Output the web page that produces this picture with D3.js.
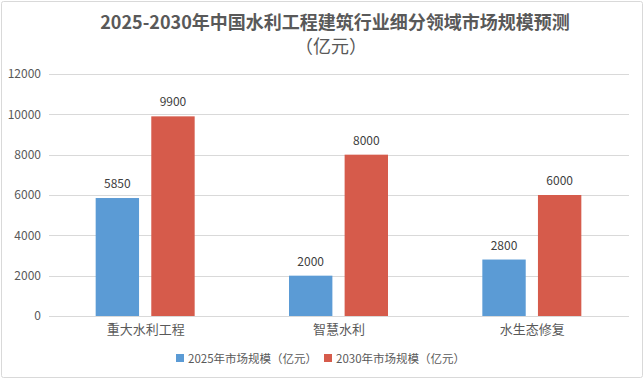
<!DOCTYPE html>
<html><head><meta charset="utf-8">
<script src="https://cdn.jsdelivr.net/npm/d3@7"></script>
<style>
html,body{margin:0;padding:0;background:#fff;}
svg{display:block;font-family:"Noto Sans CJK SC","Microsoft YaHei",sans-serif;}
</style></head>
<body><svg id="c" width="644" height="379"></svg>
<script>
const categories = ["重大水利工程", "智慧水利", "水生态修复"];
const seriesNames = ["2025年市场规模（亿元）", "2030年市场规模（亿元）"];
const values2025 = [5850, 2000, 2800];
const values2030 = [9900, 8000, 6000];
const yTicks = [0, 2000, 4000, 6000, 8000, 10000, 12000];
const colors = ["#5B9BD5", "#D65B4B"];

const svg = d3.select("#c");
const W = 644, H = 379;
const m = {left: 49, right: 15, top: 74, bottom: 63};

svg.append("rect").attr("x", 1.5).attr("y", 1.5).attr("width", W - 3).attr("height", H - 3)
  .attr("fill", "#fff").attr("stroke", "#d9d9d9").attr("rx", 2);

const x = d3.scaleBand().domain(categories).range([m.left, W - m.right]).paddingInner(0).paddingOuter(0);
const xs = d3.scaleBand().domain([0, 1]).range([0, 99]).paddingInner(0.22);
const y = d3.scaleLinear().domain([0, 12000]).range([H - m.bottom, m.top]);

// grid
svg.append("g").selectAll("line").data(yTicks).join("line")
  .attr("x1", m.left).attr("x2", W - m.right)
  .attr("y1", d => Math.round(y(d)) + 0.5).attr("y2", d => Math.round(y(d)) + 0.5)
  .attr("stroke", "#d9d9d9").attr("stroke-width", 1);

// y axis labels
const yAxis = d3.axisLeft(y).tickValues(yTicks).tickSize(0).tickPadding(0).tickFormat(d3.format("d"));
const gy = svg.append("g").attr("transform", `translate(${m.left - 8},0)`).call(yAxis);
gy.select(".domain").remove();
gy.selectAll("text").attr("fill", "#595959").attr("font-size", 12)
  .attr("font-family", "'Noto Sans CJK SC',sans-serif");

// x axis labels
const xAxis = d3.axisBottom(x).tickSize(0).tickPadding(0);
const gx = svg.append("g").attr("transform", `translate(0,${H - m.bottom + 9})`).call(xAxis);
gx.select(".domain").remove();
gx.selectAll("text").attr("fill", "#595959").attr("font-size", 13)
  .attr("font-family", "'Noto Sans CJK SC',sans-serif");

const series = [values2025, values2030];
series.forEach((vals, si) => {
  const g = svg.append("g");
  g.selectAll("rect").data(categories).join("rect")
    .attr("x", (c) => x(c) + x.bandwidth() / 2 - 50 + xs(si))
    .attr("width", xs.bandwidth())
    .attr("y", (c, i) => y(vals[i]))
    .attr("height", (c, i) => y(0) - y(vals[i]))
    .attr("fill", colors[si]);
  g.selectAll("text").data(categories).join("text")
    .attr("x", (c) => x(c) + x.bandwidth() / 2 - 50 + xs(si) + xs.bandwidth() / 2)
    .attr("y", (c, i) => y(vals[i]) - 10)
    .attr("text-anchor", "middle").attr("font-size", 12).attr("fill", "#404040")
    .text((c, i) => vals[i]);
});

// title
const t = svg.append("text").attr("text-anchor", "middle").attr("fill", "#595959")
  .attr("font-weight", "bold").attr("font-size", 18);
t.append("tspan").attr("x", 335).attr("y", 29).text("2025-2030年中国水利工程建筑行业细分领域市场规模预测");
t.append("tspan").attr("x", 331).attr("y", 53).attr("font-weight", "normal").text("（亿元）");

// legend
const legX = [176, 324];
const lg = svg.append("g");
seriesNames.forEach((n, i) => {
  lg.append("rect").attr("x", legX[i]).attr("y", 354).attr("width", 8).attr("height", 8).attr("fill", colors[i]);
  lg.append("text").attr("x", legX[i] + 12).attr("y", 363).attr("font-size", 11.5)
    .attr("fill", "#595959").text(n);
});
</script></body></html>
